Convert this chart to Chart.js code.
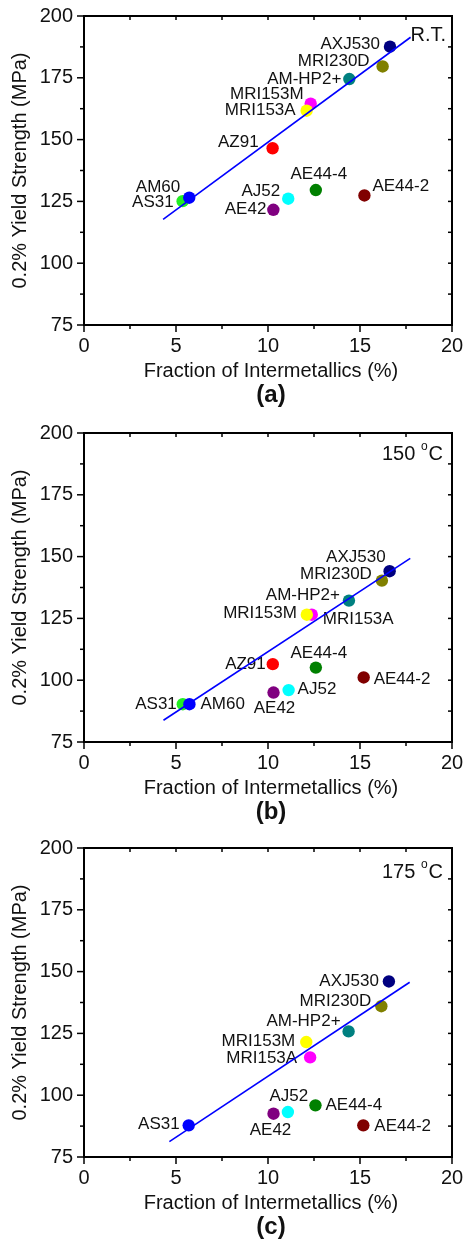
<!DOCTYPE html>
<html>
<head>
<meta charset="utf-8">
<script src="https://cdn.jsdelivr.net/npm/chart.js@4.4.1/dist/chart.umd.min.js"></script>
<style>
    body { margin: 0; background: #fff; }
    .painel { position: absolute; left: 0; width: 463px; height: 416px; }
</style>
</head>
<body>

<div class="painel" style="top:0px"><canvas id="graficoA" width="463" height="416"></canvas></div>
<div class="painel" style="top:417px"><canvas id="graficoB" width="463" height="416"></canvas></div>
<div class="painel" style="top:832px"><canvas id="graficoC" width="463" height="416"></canvas></div>

<script>
// dados
// (a) temperatura ambiente
const ligasRT = ['AS31', 'AM60', 'AZ91', 'AE42', 'AJ52', 'AE44-4', 'AE44-2', 'MRI153M', 'MRI153A', 'AM-HP2+', 'MRI230D', 'AXJ530'];
const fracaoRT = [5.36, 5.72, 10.25, 10.29, 11.1, 12.6, 15.24, 12.32, 12.1, 14.42, 16.23, 16.63];
const tensaoRT = [125.1, 126.5, 146.5, 121.6, 126.1, 129.6, 127.4, 164.5, 161.7, 174.5, 179.6, 187.6];
const ajusteRTx = [4.3, 17.75];
const ajusteRTy = [117.7, 191.4];

// (b) 150 °C
const ligas150 = ['AS31', 'AM60', 'AZ91', 'AE42', 'AJ52', 'AE44-4', 'AE44-2', 'MRI153A', 'MRI153M', 'AM-HP2+', 'MRI230D', 'AXJ530'];
const fracao150 = [5.37, 5.73, 10.26, 10.3, 11.12, 12.6, 15.2, 12.38, 12.11, 14.4, 16.19, 16.61];
const tensao150 = [90.3, 90.3, 106.5, 95.0, 96.0, 105.1, 101.1, 126.5, 126.5, 132.2, 140.3, 144.1];
const ajuste150x = [4.32, 17.73];
const ajuste150y = [83.8, 149.3];

// (c) 175 °C
const ligas175 = ['AS31', 'AE42', 'AJ52', 'AE44-4', 'AE44-2', 'MRI153A', 'MRI153M', 'AM-HP2+', 'MRI230D', 'AXJ530'];
const fracao175 = [5.69, 10.3, 11.08, 12.58, 15.18, 12.29, 12.08, 14.38, 16.16, 16.57];
const tensao175 = [87.8, 92.5, 93.2, 95.9, 87.8, 115.3, 121.5, 125.8, 136.0, 146.0];
const ajuste175x = [4.64, 17.7];
const ajuste175y = [81.2, 145.7];

const ticksX = [0, 5, 10, 15, 20];
const ticksY = [75, 100, 125, 150, 175, 200];

// cores de cada ponto
const coresRT = ['#22ee22', '#0000ff', '#ff0000', '#800080', '#00ffff', '#008000', '#800000', '#ff00ff', '#ffff00', '#008080', '#808000', '#000080'];
const cores150 = ['#22ee22', '#0000ff', '#ff0000', '#800080', '#00ffff', '#008000', '#800000', '#ff00ff', '#ffff00', '#008080', '#808000', '#000080'];
const cores175 = ['#0000ff', '#800080', '#00ffff', '#008000', '#800000', '#ff00ff', '#ffff00', '#008080', '#808000', '#000080'];

// posição dos rótulos: [alinhamento, dx, dy]
const rotulosRT = [['right', -9, 1], ['right', -9, -10], ['right', -14, -6], ['right', -7, 0], ['right', -8, -7], ['center', 3, -16],
    ['left', 8, -9], ['right', -7, -9], ['right', -11, 0], ['right', -8, 0], ['right', -13, -5], ['right', -10, -2]];
const rotulos150 = [['right', -6, 0], ['left', 11, 0], ['right', -7, 0], ['center', 1, 16], ['left', 9, -1], ['center', 3, -14],
    ['left', 10, 2], ['left', 11, 5], ['right', -10, -1], ['right', -9, -5], ['right', -10, -6], ['right', -4, -14]];
const rotulos175 = [['right', -9, -1], ['center', -3, 17], ['center', 1, -16], ['left', 10, 0], ['left', 11, 1],
    ['right', -13, 1], ['right', -11, -1], ['right', -8, -10], ['right', -10, -5], ['right', -10, 0]];

const fonte = '"Liberation Sans", Arial, sans-serif';

const molduraPlugin = {
    id: 'moldura',
    beforeDatasetsDraw(chart) {
        // rótulos das ligas (desenhados antes para os pontos ficarem por cima)
        const ctx = chart.ctx;
        const meta = chart.getDatasetMeta(1);
        const cfg = chart.options.plugins.moldura;
        ctx.save();
        ctx.font = '17px ' + fonte;
        ctx.fillStyle = '#111';
        ctx.textBaseline = 'middle';
        meta.data.forEach((p, i) => {
            const r = cfg.rotulos[i];
            ctx.textAlign = r[0];
            ctx.fillText(cfg.nomes[i], p.x + r[1], p.y + r[2]);
        });
        ctx.restore();
    },
    afterDraw(chart) {
        const { ctx, chartArea: a, scales: { x, y } } = chart;
        const cfg = chart.options.plugins.moldura;
        ctx.save();
        ctx.strokeStyle = '#000';
        ctx.lineWidth = 2;
        ctx.strokeRect(a.left, a.top, a.right - a.left, a.bottom - a.top);

        ctx.lineWidth = 1.5;
        const linha = (x1, y1, x2, y2) => {
            ctx.beginPath(); ctx.moveTo(x1, y1); ctx.lineTo(x2, y2); ctx.stroke();
        };
        for (let v = 0; v <= 20; v += 2.5) {
            const px = x.getPixelForValue(v);
            const maior = v % 5 === 0;
            linha(px, a.bottom, px, a.bottom + (maior ? 7 : 4));
            linha(px, a.top, px, a.top + 4);
        }
        for (let v = 75; v <= 200; v += 12.5) {
            const py = y.getPixelForValue(v);
            const maior = v % 25 === 0;
            linha(a.left, py, a.left - (maior ? 7 : 4), py);
            linha(a.right, py, a.right - 4, py);
        }

        ctx.fillStyle = '#111';
        ctx.textBaseline = 'middle';
        ctx.textAlign = 'center';
        ctx.font = '20px ' + fonte;
        ctx.fillText('Fraction of Intermetallics (%)', 271, 371);

        ctx.save();
        ctx.translate(20, (a.top + a.bottom) / 2);
        ctx.rotate(-Math.PI / 2);
        ctx.fillText('0.2% Yield Strength (MPa)', 0, 0);
        ctx.restore();

        ctx.font = 'bold 24px ' + fonte;
        ctx.fillText(cfg.letra, 271, 395);

        // temperatura
        ctx.font = '20px ' + fonte;
        ctx.textAlign = 'right';
        if (cfg.temp === 'R.T.') {
            ctx.fillText('R.T.', 446, cfg.tempY);
        } else {
            ctx.fillText('C', 443, cfg.tempY);
            const wc = ctx.measureText('C').width;
            ctx.font = '12px ' + fonte;
            ctx.fillText('o', 443 - wc - 1, cfg.tempY - 7);
            const wo = ctx.measureText('o').width;
            ctx.font = '20px ' + fonte;
            ctx.fillText(cfg.temp + ' ', 443 - wc - wo - 1, cfg.tempY);
        }
        ctx.restore();
    }
};

// zera o espaço extra que o Chart.js reserva para os rótulos
function semPadding(s) {
    s.paddingTop = 0; s.paddingBottom = 0; s.paddingLeft = 0; s.paddingRight = 0;
}

function criaGrafico(id, nomes, fx, fy, cores, rotulos, ax, ay, temp, tempY, letra) {
    const ctx = document.getElementById(id);
    return new Chart(ctx, {
        type: 'scatter',
        data: {
            datasets: [
                {
                    type: 'line',
                    data: ax.map((v, i) => ({ x: v, y: ay[i] })),
                    borderColor: '#0000ff',
                    borderWidth: 1.6,
                    pointRadius: 0,
                    fill: false,
                    order: 0
                },
                {
                    data: fx.map((v, i) => ({ x: v, y: fy[i] })),
                    backgroundColor: cores,
                    borderWidth: 0,
                    pointRadius: 6.2,
                    order: 1
                }
            ]
        },
        options: {
            responsive: false,
            devicePixelRatio: 1,
            animation: false,
            layout: { padding: { top: 16, right: 11, left: 0, bottom: 0 } },
            plugins: {
                legend: { display: false },
                tooltip: { enabled: false },
                moldura: { nomes: nomes, rotulos: rotulos, temp: temp, tempY: tempY, letra: letra }
            },
            scales: {
                x: {
                    type: 'linear',
                    min: 0, max: 20,
                    afterBuildTicks: s => { s.ticks = ticksX.map(v => ({ value: v })); },
                    afterFit: s => { s.height = 91; semPadding(s); },
                    grid: { display: false, drawTicks: false },
                    border: { display: false },
                    ticks: { color: '#111', font: { size: 20, family: fonte }, padding: 9, maxRotation: 0 }
                },
                y: {
                    type: 'linear',
                    min: 75, max: 200,
                    afterBuildTicks: s => { s.ticks = ticksY.map(v => ({ value: v })); },
                    afterFit: s => { s.width = 84; semPadding(s); },
                    grid: { display: false, drawTicks: false },
                    border: { display: false },
                    ticks: { color: '#111', font: { size: 20, family: fonte }, padding: 11 }
                }
            }
        },
        plugins: [molduraPlugin]
    });
}

criaGrafico('graficoA', ligasRT, fracaoRT, tensaoRT, coresRT, rotulosRT, ajusteRTx, ajusteRTy, 'R.T.', 35, '(a)');
criaGrafico('graficoB', ligas150, fracao150, tensao150, cores150, rotulos150, ajuste150x, ajuste150y, '150', 37, '(b)');
criaGrafico('graficoC', ligas175, fracao175, tensao175, cores175, rotulos175, ajuste175x, ajuste175y, '175', 40, '(c)');
</script>
</body>
</html>
